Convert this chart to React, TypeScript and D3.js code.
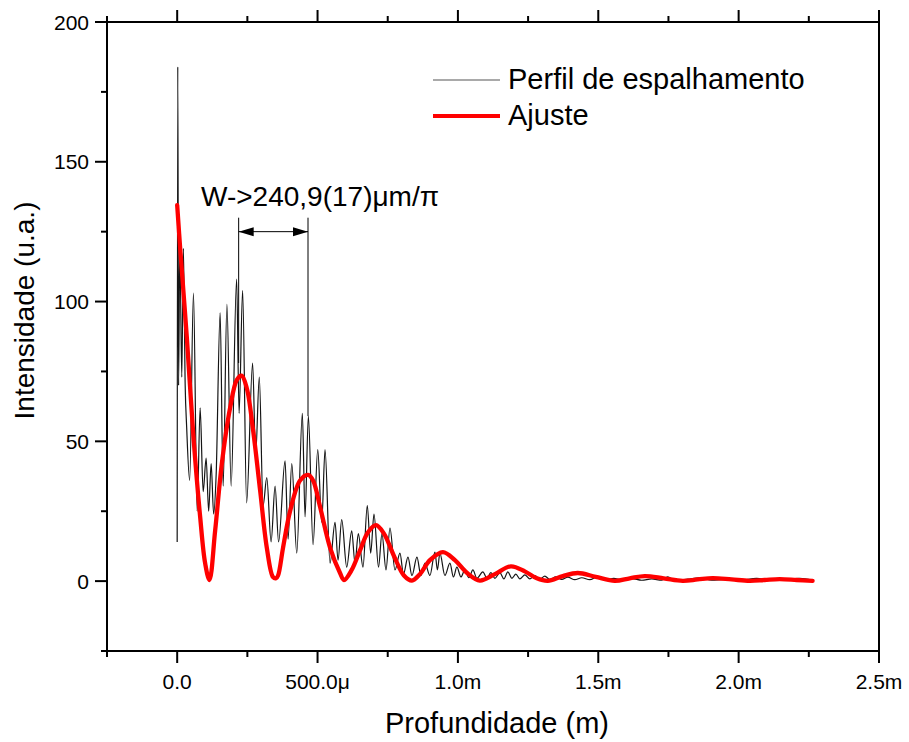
import React from "react";
import * as d3 from "d3";

// depth in micrometres, intensity in a.u.
const profileX = [0, 2.1, 5.0, 9.3, 16.4, 22.1, 28.5, 33.8, 44.5, 58.0, 71.2, 81.8, 92.5, 103.2, 112.1, 121.0, 129.9, 138.8,
  153.0, 163.7, 177.2, 192.2, 211.7, 220.6, 233.1, 247.3, 268.7, 279.4, 292.5, 306.0, 319.2, 334.5, 348.8, 361.2,
  384.3, 395.0, 408.2, 426.0, 445.9, 455.5, 467.3, 484.0, 500.7, 514.9, 526.7, 544.5, 562.3, 573.0, 586.1, 603.9,
  621.7, 633.4, 645.2, 661.9, 677.2, 689.3, 701.1, 717.1, 729.5, 743.8, 758.0, 775.8, 793.6, 806.0, 822.1, 836.3,
  854.1, 868.3, 882.6, 900.3, 918.1, 927.0, 935.9, 953.7, 971.5, 984.0, 996.4, 1010.7, 1024.9, 1039.1, 1053.4, 1067.6,
  1089.0, 1103.2, 1117.4, 1131.7, 1149.5, 1163.7, 1177.9, 1192.2, 1206.4, 1220.6, 1238.4, 1256.2, 1274.0, 1291.8,
  1309.6, 1327.4, 1348.7, 1370.1, 1391.5, 1416.4, 1441.3, 1469.7, 1498.2, 1526.7, 1555.2, 1583.6, 1619.2, 1654.8,
  1690.4, 1726.0, 1747.3, 1772.2, 1818.5, 1861.2, 1903.9, 1950.2, 2003.5, 2064.0, 2110.3, 2163.7, 2217.1, 2263.4];
const profileY = [14, 184, 70, 121, 73, 119, 70, 55, 36, 103, 25, 62, 32, 44, 25, 42, 24, 38,
  96, 34, 99, 34, 108, 60, 104, 28, 78, 45, 73, 27, 37, 14, 34, 14,
  43, 15, 42, 10, 60, 23, 59, 13, 47, 21, 47, 6.4, 21, 7.5, 22, 5,
  18, 6.4, 17, 5, 27, 10, 24, 5, 17, 4, 19, 4, 10, 2.5, 8.6, 2,
  8.6, 2, 6.4, 2, 10.4, 4, 10, 2, 6.4, 1.5, 5, 1.5, 4, 1.2, 4, 1,
  3.3, 1, 3, 1, 3, 0.8, 3.3, 1, 2.5, 0.8, 2.2, 0.8, 2, 0.7,
  1.8, 0.6, 1.5, 0.6, 1.4, 0.5, 1.2, 0.5, 1.6, 0.4, 1.0, 0.4, 0.9, 0.3,
  0.8, 0.3, 1.5, 0.3, 0.7, 1.2, 0.3, 0.6, 0.3, 1.0, 0.3, 0.6, 1.0, 0.3];

const fitX = [0, 10.7, 34.5, 56.9, 81.8, 99.6, 114.9, 135.2, 159.0, 188.5, 212.5, 229.5, 248.0, 270.4, 295.4, 319.2,
  341.6, 352.3, 359.4, 377.2, 402.1, 437.7, 466.2, 484.0, 508.9, 544.5, 580.1, 594.3, 621.7, 651.2, 679.7, 708.2,
  736.6, 772.2, 807.8, 836.3, 864.8, 900.3, 946.6, 989.3, 1032.0, 1078.2, 1131.7, 1188.6, 1238.4, 1281.1, 1320.3,
  1373.7, 1427.0, 1491.1, 1558.7, 1612.1, 1665.5, 1733.1, 1800.7, 1854.1, 1907.5, 1975.1, 2039.1, 2092.5, 2145.9,
  2206.4, 2263.4];
const fitY = [134.5, 119, 87, 53, 23, 6.4, 0.4, 18, 42, 62, 72, 73.5, 69, 54, 32.5, 12,
  1.4, 1.0, 2, 12, 25, 36, 38, 36, 26.6, 12, 2.9, 0.4, 4, 11, 17.5, 20,
  17, 9, 2, 0.2, 2.5, 7.5, 10.4, 7.5, 3, 0.2, 2.5, 5.3, 3.5, 1, 0.1,
  1.8, 2.9, 1.5, 0.1, 1, 1.8, 1, 0.1, 0.6, 1.1, 0.6, 0.1, 0.4, 0.7,
  0.4, 0.1];

const xMajorTicks = [0, 500, 1000, 1500, 2000, 2500];
const xMinorTicks = [-250, 250, 750, 1250, 1750, 2250];
const yMajorTicks = [0, 50, 100, 150, 200];
const yMinorTicks = [-25, 25, 75, 125, 175];

const legendLabels = ["Perfil de espalhamento", "Ajuste"];
const annotationText = "W->240,9(17)\u03bcm/\u03c0";
const annotationLeftX = 219;
const annotationRightX = 466;
const annotationTopY = 130;
const annotationLeftBottom = 78;
const annotationRightBottom = 59;
const annotationArrowY = 125;

const FONT = "'Liberation Sans', Arial, Helvetica, sans-serif";

function fmtX(v: number): string {
  if (v === 0) return "0.0";
  if (Math.abs(v) < 1000) return v.toFixed(1) + "\u03bc";
  return (v / 1000).toFixed(1) + "m";
}

export default function App() {
  const W = 909, H = 742;
  const left = 107, right = 879, top = 22, bottom = 651;
  const x = d3.scaleLinear().domain([-250, 2500]).range([left, right]);
  const y = d3.scaleLinear().domain([-25, 200]).range([bottom, top]);

  const profile = profileX.map((v, i) => [v, profileY[i]] as [number, number]);
  const fit = fitX.map((v, i) => [v, fitY[i]] as [number, number]);
  const profLine = d3.line<[number, number]>().x(d => x(d[0])).y(d => y(d[1])).curve(d3.curveMonotoneX);
  const fitLine = d3.line<[number, number]>().x(d => x(d[0])).y(d => y(d[1])).curve(d3.curveCatmullRom.alpha(0.5));

  const ax = "#000";
  const majorLen = 12, minorLen = 6;

  const xl = x(annotationLeftX), xr = x(annotationRightX), ay = y(annotationArrowY);

  return (
    <svg width={W} height={H} style={{ position: "absolute", left: 0, top: 0, background: "#fff" }}>
      <rect x={0} y={0} width={W} height={H} fill="#fff" />
      <defs>
        <clipPath id="plotclip">
          <rect x={left} y={top} width={right - left} height={bottom - top} />
        </clipPath>
      </defs>

      {/* data */}
      <g clipPath="url(#plotclip)">
        <path d={profLine(profile) || ""} fill="none" stroke="#151515" strokeWidth={1.2} strokeLinejoin="round" />
        <path d={fitLine(fit) || ""} fill="none" stroke="#ff0000" strokeWidth={4.3} strokeLinejoin="round" strokeLinecap="round" />
      </g>

      {/* annotation */}
      <g stroke="#000" strokeWidth={1}>
        <line x1={xl} x2={xl} y1={y(annotationTopY)} y2={y(annotationLeftBottom)} />
        <line x1={xr} x2={xr} y1={y(annotationTopY)} y2={y(annotationRightBottom)} />
        <line x1={xl} x2={xr} y1={ay} y2={ay} />
      </g>
      <path d={`M${xl},${ay} L${xl + 15},${ay - 4.5} L${xl + 15},${ay + 4.5} Z`} fill="#000" />
      <path d={`M${xr},${ay} L${xr - 15},${ay - 4.5} L${xr - 15},${ay + 4.5} Z`} fill="#000" />
      <text x={201} y={206} fontFamily={FONT} fontSize={28} fill="#000">{annotationText}</text>

      {/* axes frame */}
      <rect x={left} y={top} width={right - left} height={bottom - top} fill="none" stroke={ax} strokeWidth={2} />

      {/* x ticks bottom & top */}
      {xMajorTicks.map(t => (
        <g key={"xM" + t}>
          <line x1={x(t)} x2={x(t)} y1={bottom} y2={bottom + majorLen} stroke={ax} strokeWidth={2} />
          <line x1={x(t)} x2={x(t)} y1={top} y2={top - majorLen} stroke={ax} strokeWidth={2} />
          <text x={x(t)} y={689} textAnchor="middle" fontFamily={FONT} fontSize={21} fill="#000">{fmtX(t)}</text>
        </g>
      ))}
      {xMinorTicks.map(t => (
        <g key={"xm" + t}>
          <line x1={x(t)} x2={x(t)} y1={bottom} y2={bottom + minorLen} stroke={ax} strokeWidth={2} />
          <line x1={x(t)} x2={x(t)} y1={top} y2={top - minorLen} stroke={ax} strokeWidth={2} />
        </g>
      ))}

      {/* y ticks left */}
      {yMajorTicks.map(t => (
        <g key={"yM" + t}>
          <line x1={left} x2={left - majorLen} y1={y(t)} y2={y(t)} stroke={ax} strokeWidth={2} />
          <text x={89} y={y(t) + 7.5} textAnchor="end" fontFamily={FONT} fontSize={21} fill="#000">{t}</text>
        </g>
      ))}
      {yMinorTicks.map(t => (
        <line key={"ym" + t} x1={left} x2={left - minorLen} y1={y(t)} y2={y(t)} stroke={ax} strokeWidth={2} />
      ))}

      {/* axis titles */}
      <text x={497} y={733} textAnchor="middle" fontFamily={FONT} fontSize={29} fill="#000">Profundidade (m)</text>
      <text transform={`translate(34,${(top + bottom) / 2 - 26}) rotate(-90)`} textAnchor="middle" fontFamily={FONT} fontSize={28} fill="#000">Intensidade (u.a.)</text>

      {/* legend */}
      <line x1={433} x2={500} y1={80} y2={80} stroke="#555" strokeWidth={1.2} />
      <text x={508} y={89} fontFamily={FONT} fontSize={29} fill="#000">{legendLabels[0]}</text>
      <line x1={433} x2={500} y1={116} y2={116} stroke="#ff0000" strokeWidth={4} />
      <text x={508} y={125} fontFamily={FONT} fontSize={29} fill="#000">{legendLabels[1]}</text>
    </svg>
  );
}
